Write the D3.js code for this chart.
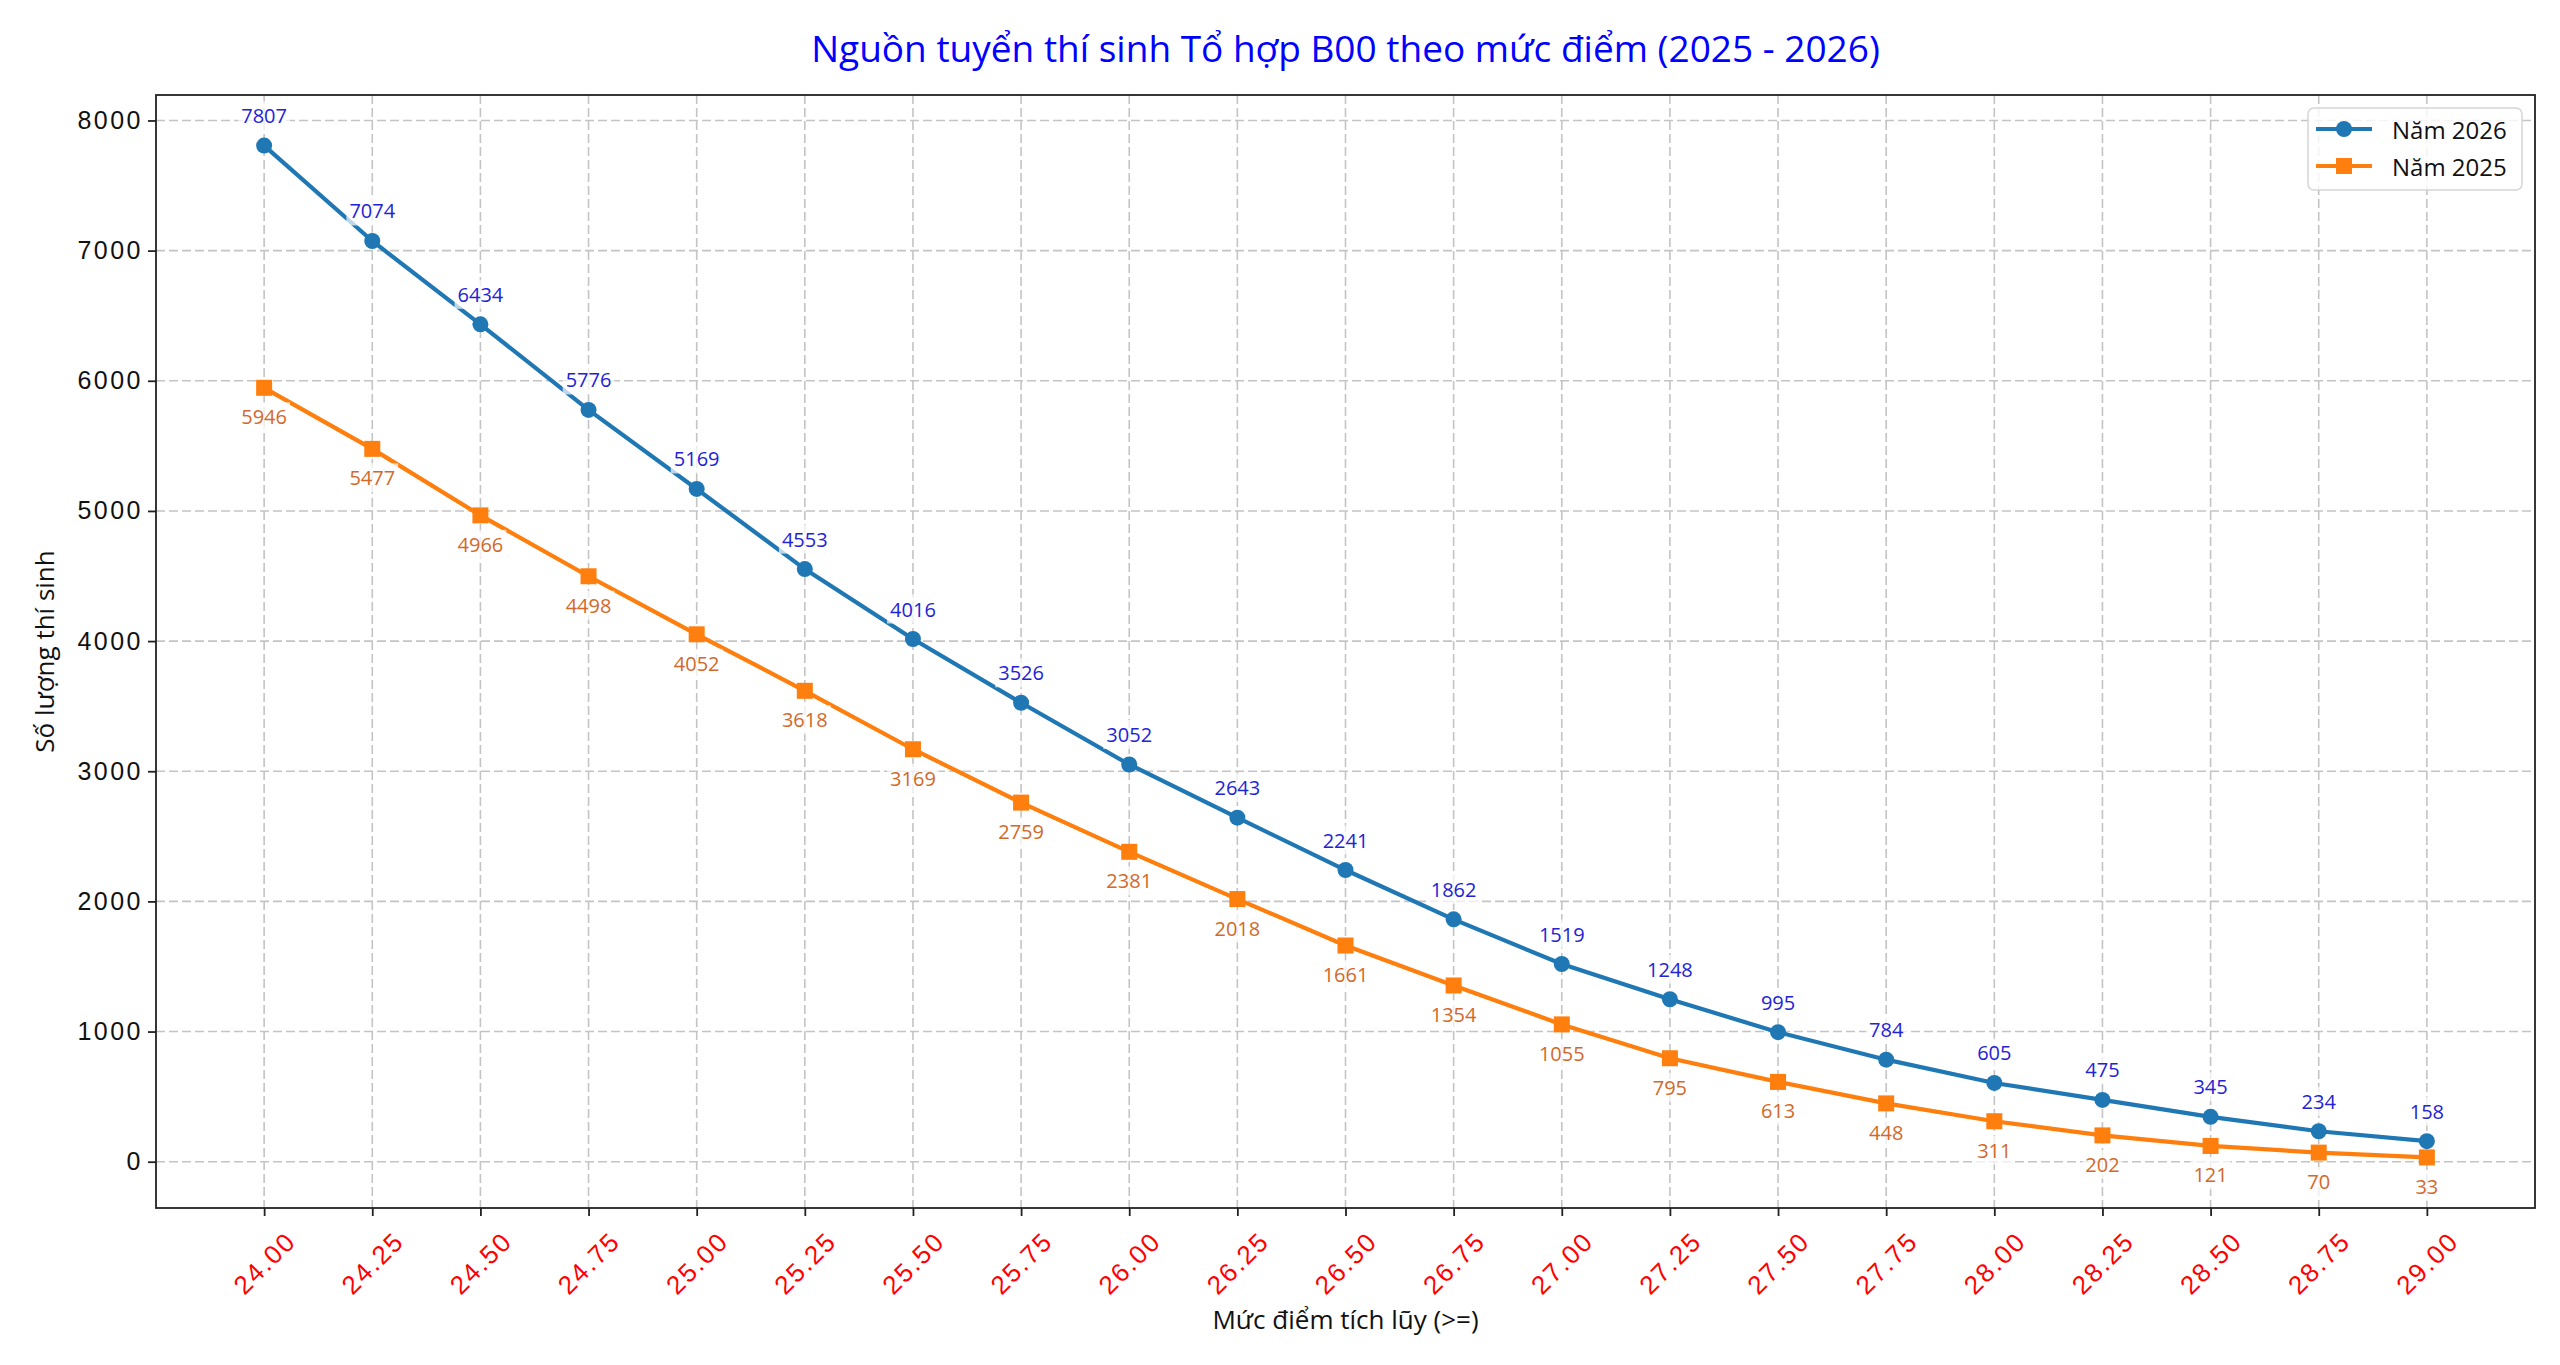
<!DOCTYPE html>
<html>
<head>
<meta charset="utf-8">
<script src="https://cdn.jsdelivr.net/npm/d3@7"></script>
<style>
  html, body { margin: 0; padding: 0; background: #fff; }
  svg { display: block; font-family: "Open Sans", "Noto Sans", sans-serif; }
</style>
</head>
<body>
<div id="chart"></div>
<script>
// data
const scores = [24.00, 24.25, 24.50, 24.75, 25.00, 25.25, 25.50, 25.75, 26.00, 26.25, 26.50,
                26.75, 27.00, 27.25, 27.50, 27.75, 28.00, 28.25, 28.50, 28.75, 29.00];
const year2026 = [7807, 7074, 6434, 5776, 5169, 4553, 4016, 3526, 3052, 2643, 2241,
                  1862, 1519, 1248, 995, 784, 605, 475, 345, 234, 158];
const year2025 = [5946, 5477, 4966, 4498, 4052, 3618, 3169, 2759, 2381, 2018, 1661,
                  1354, 1055, 795, 613, 448, 311, 202, 121, 70, 33];
const yTicks = [0, 1000, 2000, 3000, 4000, 5000, 6000, 7000, 8000];
const seriesNames = ['Năm 2026', 'Năm 2025'];

const width = 2560, height = 1365;
const plotLeft = 156, plotRight = 2535, plotTop = 95, plotBottom = 1208;

const svg = d3.select('#chart').append('svg')
    .attr('width', width)
    .attr('height', height);

// matplotlib style 5% padding
let xPad = (d3.max(scores) - d3.min(scores)) * 0.05;
let xScale = d3.scaleLinear()
    .domain([d3.min(scores) - xPad, d3.max(scores) + xPad])
    .range([plotLeft, plotRight]);

let allVals = year2026.concat(year2025);
let yPad = (d3.max(allVals) - d3.min(allVals)) * 0.05;
let yScale = d3.scaleLinear()
    .domain([d3.min(allVals) - yPad, d3.max(allVals) + yPad])
    .range([plotBottom, plotTop]);

// grid
let grid = svg.append('g')
    .attr('stroke', '#c4c4c4')
    .attr('stroke-width', 1.6)
    .attr('stroke-dasharray', '9,4');
grid.selectAll('.gx').data(scores).enter().append('line')
    .attr('x1', d => xScale(d)).attr('x2', d => xScale(d))
    .attr('y1', plotTop).attr('y2', plotBottom);
grid.selectAll('.gy').data(yTicks).enter().append('line')
    .attr('x1', plotLeft).attr('x2', plotRight)
    .attr('y1', d => yScale(d)).attr('y2', d => yScale(d));

// axes
let xAxis = d3.axisBottom(xScale)
    .tickValues(scores)
    .tickSize(8)
    .tickFormat(d3.format('.2f'));
let yAxis = d3.axisLeft(yScale)
    .tickValues(yTicks)
    .tickSize(8)
    .tickPadding(5)
    .tickFormat(d3.format('d'));

let gx = svg.append('g')
    .attr('transform', `translate(0,${plotBottom})`)
    .call(xAxis);
gx.select('.domain').remove();
gx.selectAll('.tick line').attr('stroke', '#222').attr('stroke-width', 1.8);
gx.selectAll('.tick text')
    .attr('fill', 'red')
    .attr('font-size', 26)
    .attr('letter-spacing', 2)
    .attr('text-anchor', 'middle')
    .attr('dy', null)
    .attr('y', 0)
    .attr('dominant-baseline', 'central')
    .attr('transform', 'translate(0,55) rotate(-45)');

let gy = svg.append('g')
    .attr('transform', `translate(${plotLeft},0)`)
    .call(yAxis);
gy.select('.domain').remove();
gy.selectAll('.tick line').attr('stroke', '#222').attr('stroke-width', 1.8);
gy.selectAll('.tick text')
    .attr('fill', '#111')
    .attr('font-size', 25)
    .attr('letter-spacing', 2.5);

// frame
svg.append('rect')
    .attr('x', plotLeft).attr('y', plotTop)
    .attr('width', plotRight - plotLeft).attr('height', plotBottom - plotTop)
    .attr('fill', 'none')
    .attr('stroke', '#222')
    .attr('stroke-width', 1.8);

// lines
let line = d3.line()
    .x((d, i) => xScale(scores[i]))
    .y(d => yScale(d));

svg.append('path')
    .attr('d', line(year2026))
    .attr('fill', 'none')
    .attr('stroke', '#1f77b4')
    .attr('stroke-width', 4.2);
svg.append('path')
    .attr('d', line(year2025))
    .attr('fill', 'none')
    .attr('stroke', '#ff7f0e')
    .attr('stroke-width', 4.2);

// value labels with a faint white box
let addLabels = (vals, dy, color) => {
    let g = svg.append('g');
    vals.forEach((v, i) => {
        let x = xScale(scores[i]);
        let y = yScale(v) + dy;
        let lab = g.append('g');
        let t = lab.append('text')
            .attr('x', x).attr('y', y)
            .attr('text-anchor', 'middle')
            .attr('dominant-baseline', 'central')
            .attr('font-size', 20)
            .attr('fill', color)
            .text(v);
        let bb = t.node().getBBox();
        lab.insert('rect', 'text')
            .attr('x', bb.x - 3).attr('y', bb.y - 1)
            .attr('width', bb.width + 6).attr('height', bb.height + 2)
            .attr('fill', 'white')
            .attr('fill-opacity', 0.7);
    });
};
addLabels(year2026, -30, '#2323d6');
addLabels(year2025, 29, '#d2692a');

// markers
svg.selectAll('.m26').data(year2026).enter().append('circle')
    .attr('cx', (d, i) => xScale(scores[i]))
    .attr('cy', d => yScale(d))
    .attr('r', 8)
    .attr('fill', '#1f77b4');
svg.selectAll('.m25').data(year2025).enter().append('rect')
    .attr('x', (d, i) => xScale(scores[i]) - 8)
    .attr('y', d => yScale(d) - 8)
    .attr('width', 16).attr('height', 16)
    .attr('fill', '#ff7f0e');

// title and axis labels
svg.append('text')
    .attr('x', (plotLeft + plotRight) / 2).attr('y', 47)
    .attr('text-anchor', 'middle')
    .attr('dominant-baseline', 'central')
    .attr('font-size', 37)
    .attr('fill', 'blue')
    .text('Nguồn tuyển thí sinh Tổ hợp B00 theo mức điểm (2025 - 2026)');

svg.append('text')
    .attr('x', (plotLeft + plotRight) / 2).attr('y', 1319)
    .attr('text-anchor', 'middle')
    .attr('dominant-baseline', 'central')
    .attr('font-size', 26)
    .attr('fill', '#111')
    .text('Mức điểm tích lũy (>=)');

svg.append('text')
    .attr('transform', `translate(44,${(plotTop + plotBottom) / 2}) rotate(-90)`)
    .attr('text-anchor', 'middle')
    .attr('dominant-baseline', 'central')
    .attr('font-size', 26)
    .attr('fill', '#111')
    .text('Số lượng thí sinh');

// legend
let legend = svg.append('g');
legend.append('rect')
    .attr('x', 2308).attr('y', 108)
    .attr('width', 214).attr('height', 82)
    .attr('rx', 6)
    .attr('fill', 'white')
    .attr('fill-opacity', 0.8)
    .attr('stroke', '#d5d5d5')
    .attr('stroke-width', 1.5);
const legendColors = ['#1f77b4', '#ff7f0e'];
seriesNames.forEach((name, i) => {
    let y = 129 + i * 37;
    legend.append('line')
        .attr('x1', 2316).attr('x2', 2372)
        .attr('y1', y).attr('y2', y)
        .attr('stroke', legendColors[i])
        .attr('stroke-width', 4.2);
    if (i === 0) {
        legend.append('circle').attr('cx', 2344).attr('cy', y).attr('r', 8)
            .attr('fill', legendColors[i]);
    } else {
        legend.append('rect').attr('x', 2336).attr('y', y - 8)
            .attr('width', 16).attr('height', 16)
            .attr('fill', legendColors[i]);
    }
    legend.append('text')
        .attr('x', 2392).attr('y', y)
        .attr('dominant-baseline', 'central')
        .attr('font-size', 24)
        .attr('fill', '#111')
        .text(name);
});
</script>
</body>
</html>
